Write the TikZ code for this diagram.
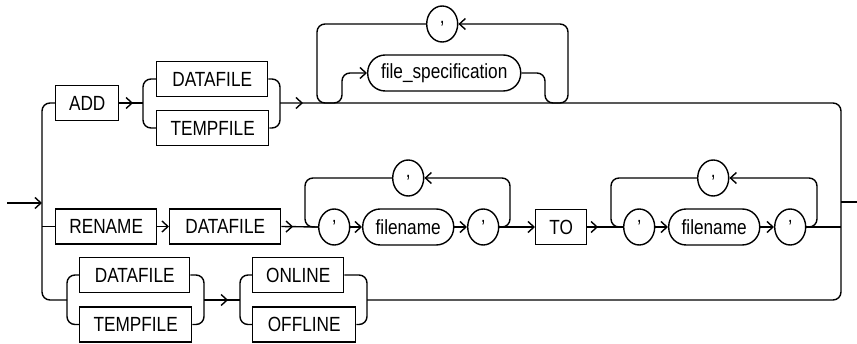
\documentclass[tikz,border=0pt]{standalone}
\usepackage{fontspec}
\setmainfont{Liberation Sans}[FakeStretch=0.84]
\usetikzlibrary{arrows.meta,shapes.geometric,decorations.markings}
\begin{document}
\begin{tikzpicture}[
    x=1pt, y=-1pt,
    line width=1.4pt,
    >={Straight Barb[length=6pt,width=11pt]},
    every node/.style={font=\fontsize{20.5}{24}\selectfont, inner sep=0pt},
    kwbox/.style={draw, rectangle, minimum height=35pt, anchor=west},
    pill/.style={draw, rectangle, rounded corners=17.5pt, minimum height=36pt, anchor=west},
    sym/.style={draw, ellipse, minimum width=31pt, minimum height=36pt, anchor=west},
    rail/.style={rounded corners=8pt},
    mid/.style={postaction={decorate},
        decoration={markings, mark=at position #1 with {\arrow{>}}}}
]
\useasboundingbox (0,0) rectangle (857,344);

  \node[kwbox, minimum width=63pt] (add) at (55,103) {ADD};
  \node[kwbox, minimum width=111pt] (df1) at (156,79) {DATAFILE};
  \node[kwbox, minimum width=112pt] (tf1) at (156,128) {TEMPFILE};
  \node[sym] (c1) at (426,24) {,};
  \node[pill, minimum width=153pt] (fspec) at (367,73) {file\_specification};

  \node[kwbox, minimum width=101pt] (ren) at (55,226.5) {RENAME};
  \node[kwbox, minimum width=111pt] (df2) at (169,226.5) {DATAFILE};
  \node[sym] (q1) at (318,227) {'};
  \node[pill, minimum width=91pt] (fn1) at (362,227) {filename};
  \node[sym] (q2) at (467,227) {'};
  \node[sym] (c2) at (392,178) {,};
  \node[kwbox, minimum width=51pt] (to) at (535,227) {TO};
  \node[sym] (q3) at (623,227) {'};
  \node[pill, minimum width=91pt] (fn2) at (668,227) {filename};
  \node[sym] (q4) at (774,227) {'};
  \node[sym] (c3) at (697,178) {,};

  \node[kwbox, minimum width=110pt] (df3) at (79,275) {DATAFILE};
  \node[kwbox, minimum width=112pt] (tf3) at (79,324.5) {TEMPFILE};
  \node[kwbox, minimum width=91pt] (onl) at (252,275) {ONLINE};
  \node[kwbox, minimum width=103pt] (offl) at (252,324.5) {OFFLINE};

  \coordinate (in) at (7,203);
  \coordinate (out) at (857,202);
  \coordinate (lt) at (42,103);
  \coordinate (lm) at (42,203);
  \coordinate (l2) at (42,226.5);
  \coordinate (lb) at (42,300);
  \coordinate (b1l) at (143,103);
  \coordinate (b1r) at (280,103);
  \coordinate (rt) at (841,103);
  \coordinate (rm) at (841,202);
  \coordinate (r2) at (841,227);
  \coordinate (rb) at (841,300);
  \coordinate (b3l) at (67,300);
  \coordinate (b3m) at (204,300);
  \coordinate (b4l) at (240,300);
  \coordinate (b3r) at (367,300);

  \draw[->] (in) -- (lm);
  \draw[rail] (add.west) -| (lb) -- (b3l);
  \draw (l2) -- (ren.west);
  \draw (rm) -- (out);

  \draw[mid=0.58] (add.east) -- (b1l);
  \draw[rail] (df1.west) -| (b1l) |- (tf1.west);
  \draw[rail] (df1.east) -| (b1r) |- (tf1.east);
  \draw[rail, mid=23pt] (b1r) -- (rt) -- (rb) -- (b3r);
  \draw[rail] (fspec.east) -| (545,103) -- (557,103);
  \draw[rail, ->] (557,103) -| (568,24) -- (c1.east);
  \draw[rail] (c1.west) -| (317,103) -- (330,103);
  \draw[rail, ->] (330,103) -| (342,73) -- (fspec.west);

  \draw[->] (ren.east) -- (df2.west);
  \draw[mid=0.32] (df2.east) -- (q1.west);
  \draw[->] (q1.east) -- (fn1.west);
  \draw[->] (fn1.east) -- (q2.west);
  \draw[->] (q2.east) -- (to.west);
  \draw[rail, ->] (q2.east) -| (510,178) -- (c2.east);
  \draw[rail] (c2.west) -| (305,227) -- (q1.west);
  \draw[mid=0.3] (to.east) -- (q3.west);
  \draw[->] (q3.east) -- (fn2.west);
  \draw[->] (fn2.east) -- (q4.west);
  \draw (q4.east) -- (r2);
  \draw[rail, ->] (q4.east) -| (817,178) -- (c3.east);
  \draw[rail] (c3.west) -| (611,227) -- (q3.west);

  \draw[rail] (df3.west) -| (b3l) |- (tf3.west);
  \draw[rail] (df3.east) -| (b3m) |- (tf3.east);
  \draw[mid=0.67] (b3m) -- (b4l);
  \draw[rail] (onl.west) -| (b4l) |- (offl.west);
  \draw[rail] (onl.east) -| (b3r) |- (offl.east);
\end{tikzpicture}
\end{document}
